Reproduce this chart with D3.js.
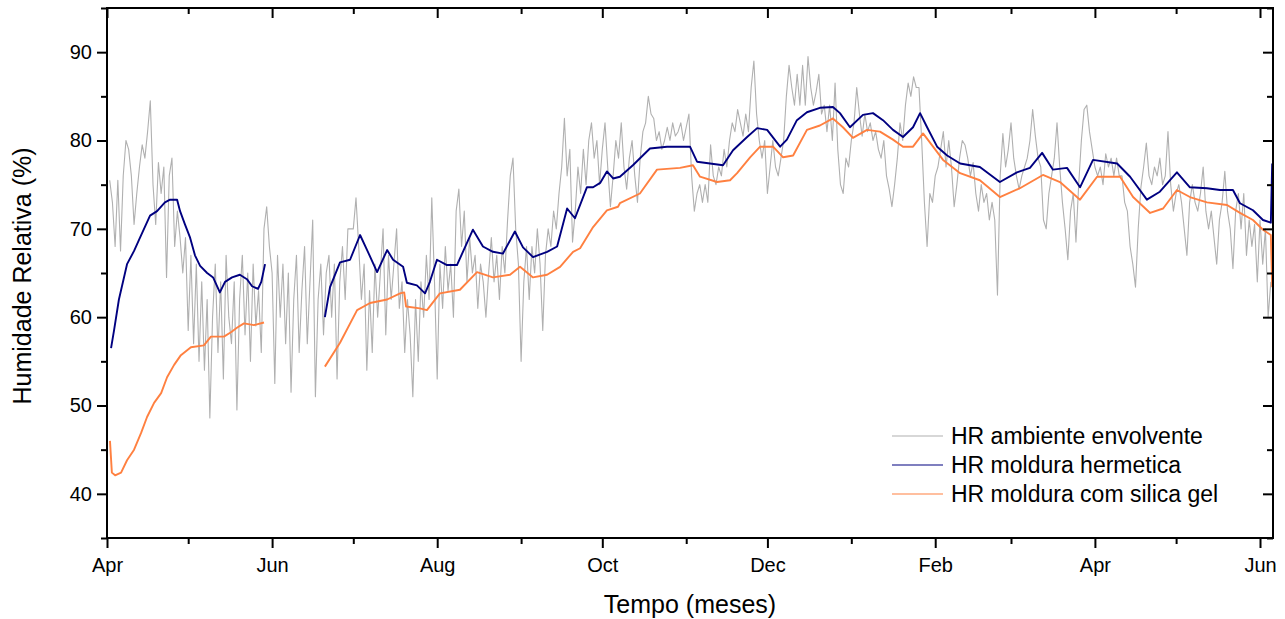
<!DOCTYPE html>
<html><head><meta charset="utf-8">
<script src="https://cdn.jsdelivr.net/npm/d3@7"></script>
<style>
body{margin:0;background:#fff}
svg{display:block}
text{font-family:"Liberation Sans",Arial,Helvetica,sans-serif;fill:#000}
</style>
</head><body>
<svg id="chart" width="1285" height="619"></svg>
<script>
// ---------- data ----------
const startDate = new Date(2014, 3, 1);     // day 0 = 1 Apr 2014
const endDay = 430.8;                        // right edge of the frame (~6 Jun 2015)
const yDomain = [35, 95];
const yTickValues = [40, 50, 60, 70, 80, 90];
const xTickLabels = ["Apr", "Jun", "Aug", "Oct", "Dec", "Feb", "Apr", "Jun"];
const seriesNames = ["HR ambiente envolvente", "HR moldura hermetica", "HR moldura com silica gel"];
const seriesColors = ["#b0b0b0", "#000080", "#ff8040"];

// ambient RH, one reading per day, starting at day 1
const ambienteStartDay = 1;
const ambienteValues = [
  75.5,73,68,75.5,67.5,76,80,79,76,70.5,
  74,77,79.5,78,81,84.5,75,70.5,77.5,74,
  77,64.5,76,78,68,72,69,65,69,58.5,
  67,57,66,55,64,54,62,48.6,60,66,
  56,64,53,67,60,57,64,49.5,62,67,
  58,65,55,66,59,63,56,70,72.5,68,
  65,52.5,67,60,66,57,65,51.5,62,67,
  56,63,68,57,64,71,51,62,66,58,
  65,67,60,66,53,64,68,62,70,70,
  70,73.5,68,62,66,54,63,56,66,60,
  65,70,58,67,62,66,70,61,64,56,
  62,58,51,62,55,64,60,67,62,73.5,
  64,53,66,61,68,63,66,60,72,74.5,
  68,72,64,69,65,67,61,66,64,60,
  65,69,64,67,62,68,65,71,76,78,
  70,66,55,64,68,62,68,65,70,66,
  58.5,67,70,68,72,70,74,77,82.5,76,
  79,68.5,72,77,74,79,75,80,82,78,
  80,75,79,82,77,72.5,76,80,78,82,
  77,74.5,78,80,76,73,78,81,82,85,
  83,82.5,80,81,79,80,81.5,80,82,80.5,
  81,82,80,81.5,83,76,72,74,75,73,
  75,73,79.5,76,75,77,76,79,77,80,
  82,81,83.5,82,80.5,83,81,86,89,83,
  80,78,80,74,77,80,77,76,78,80,
  85,88.5,86,84,87.5,84,88.5,84,89.5,86,
  84,85.5,87.5,83,84,81,84,80,86.5,79,
  75,74,78,77,80,82,86,83,80.5,83,
  81,82,80,81,79,78,80,76,74.5,72.5,
  75,78,82,80,84,86.5,85,87.2,86,86,
  80,73,68,74,73,76,77,79,81,77,
  80,77,72.5,75,78,80,79.5,78,76,77.5,
  74,72,75,73,74,71,73,71,62.5,76,
  80.8,77,79,82,78,76,74.5,76,77,78,
  80,83.5,80.5,78,77,71,70,74,76,78,
  82,77,73,70,66.5,72,74,68.5,75,80,
  83.5,84,81,79,77,76,77,75,78.5,77,
  78,76,78,76,76,73,72,68,66,63.4,
  70,74.7,77,79.7,76,75,77,76,78,75,
  76,81,75,72,74,75,73,70,67,73,
  75,73,72,74,77,72,70,72,69,66,
  71,73,76.5,72,70,65.5,72,74,70,74,
  67,71,68,70.5,64,71,66,70,60,64
];

// hermetic frame (null = gap in record)
const hermeticaDays = [
  1.5,2.6,4.4,7.4,10,12.2,15.9,18.5,21.4,23.3,25.9,27,28.8,30.7,32.5,34.4,37,39.2,41.7,43.6,46.2,49.1,51.7,53.6,55.8,57,58.4,
  null,
  80.5,82.4,86.1,89.8,93.5,96.1,99.8,103.5,105.7,109.4,110.8,114.5,117.5,119.3,121.9,125.6,129.3,135.2,138.9,142.6,146.3,150.7,153.7,157.4,162.6,166.3,170,172.9,177.3,179.6,182.2,184.7,187,189.5,194.3,200.6,206.9,215.4,218,222.8,227.6,231.3,236.5,240.2,243.9,248.7,251.2,254.9,258.6,263.4,268.2,270.8,274.5,279.3,283,286.7,290.4,294.1,297.8,300.4,303,306.7,310.4,315.2,322.5,329.9,336.2,341,345.5,349.5,354.7,359.5,364.3,373.2,378,384.2,389,395.3,400.1,406.4,411.2,416,418.6,423.4,427.1,430,430.5
];
const hermeticaValues = [
  56.5,58.5,62,66,67.5,69,71.5,72,73,73.3,73.3,72,70.5,69,67,65.8,65,64.5,62.8,64,64.5,64.8,64.3,63.5,63.2,64,66,
  null,
  60,63.4,66.2,66.5,69.3,67.6,65.1,67.6,66.5,65.7,63.9,63.6,62.7,64,66.5,65.9,65.9,69.9,68,67.4,67.2,69.7,67.9,66.8,67.4,68,72.3,71.2,74.7,74.7,75.2,76.5,75.7,75.9,77.2,79.1,79.3,79.3,77.6,77.4,77.2,78.9,80.4,81.4,81.2,79.3,80.1,82.3,83.2,83.7,83.8,83.1,81.5,82.9,83.1,82.3,81.2,80.4,81.5,83.1,81.5,79.3,78.3,77.4,77,75.3,76.4,76.9,78.6,76.7,76.9,74.7,77.8,77.4,75.9,73.3,74.2,76.4,74.7,74.6,74.4,74.4,72.9,72.1,71,70.7,77.4
];

// frame with silica gel (null = gap in record)
const silicaDays = [
  1.1,1.8,3,5.2,7.4,10,12.6,14.8,17.4,20,22.2,24.8,27.3,31,35.8,38.4,43.2,45.8,48,50.6,54.3,58,
  null,
  80.5,86.1,92.4,97.2,103.5,108.3,109.8,110.5,115.6,118.2,123,130.4,136.7,142.6,148.9,152.6,157.4,162.6,167.4,172.2,174.8,179.6,184.7,188.8,189.5,196.9,203.2,211.7,216.5,219.1,225.4,230.2,232.8,237.6,241.3,246.1,249.8,253.5,258.6,263.4,268.2,271.9,275.6,280.8,285.6,290.4,294.1,297.8,301.5,305.2,308.9,315.2,322.5,329.9,337.3,345.8,352.1,359.5,365.8,374.3,379.1,385.4,390.2,395.3,400.1,406.4,413.8,418.6,423.4,427.1,430,430.5
];
const silicaValues = [
  46,42.4,42.1,42.4,43.8,45,46.9,48.7,50.3,51.4,53.2,54.6,55.7,56.6,56.8,57.8,57.8,58.3,58.8,59.3,59.1,59.4,
  null,
  54.4,57.1,60.8,61.6,62,62.7,62.8,61.2,61,60.8,62.7,63.1,65.1,64.5,64.8,65.7,64.5,64.8,65.7,67.4,67.8,70.2,72.1,72.5,72.9,74,76.7,76.9,77.2,75.9,75.3,75.5,76.3,78.1,79.3,79.3,78.1,78.3,81.2,81.7,82.5,81.5,80.3,81.2,81,80.1,79.3,79.3,80.8,79.3,77.8,76.3,75.5,73.6,74.6,76.1,75.3,73.3,75.9,75.9,73.6,71.8,72.3,74.4,73.6,73,72.7,71.8,71,69.9,69.3,63.4
];

// ---------- drawing ----------
const W = 1285, H = 619;
const margin = {left: 107, top: 8, right: 12, bottom: 81};
const dayToDate = d => new Date(startDate.getTime() + d * 86400000);
const endDate = dayToDate(endDay);

const x = d3.scaleTime().domain([startDate, endDate]).range([margin.left, W - margin.right]);
const y = d3.scaleLinear().domain(yDomain).range([H - margin.bottom, margin.top]);

const svg = d3.select("#chart");
const x0 = margin.left, x1 = W - margin.right, y0 = H - margin.bottom, y1 = margin.top;

const plot = svg.append("g");
plot.append("clipPath").attr("id", "clip").append("rect")
  .attr("x", x0).attr("y", y1).attr("width", x1 - x0).attr("height", y0 - y1);

const ambiente = ambienteValues.map((v, i) => ({d: ambienteStartDay + i, v}));
const hermetica = hermeticaDays.map((d, i) => ({d, v: hermeticaValues[i]}));
const silica = silicaDays.map((d, i) => ({d, v: silicaValues[i]}));

const line = d3.line()
  .defined(p => p.d != null && p.v != null)
  .x(p => x(dayToDate(p.d)))
  .y(p => y(p.v));

const lines = plot.append("g").attr("clip-path", "url(#clip)");
lines.append("path").datum(ambiente).attr("d", line)
  .attr("fill", "none").attr("stroke", seriesColors[0]).attr("stroke-width", 1.1).attr("stroke-linejoin", "round");
lines.append("path").datum(silica).attr("d", line)
  .attr("fill", "none").attr("stroke", seriesColors[2]).attr("stroke-width", 1.9).attr("stroke-linejoin", "round");
lines.append("path").datum(hermetica).attr("d", line)
  .attr("fill", "none").attr("stroke", seriesColors[1]).attr("stroke-width", 1.9).attr("stroke-linejoin", "round");

// ticks: majors every second month starting at April, minors on the other months
const allMonths = d3.timeMonth.range(startDate, d3.timeDay.offset(endDate, 1));
const majorDates = allMonths.filter((dt, i) => i % 2 === 0);
const minorDates = allMonths.filter((dt, i) => i % 2 === 1);
const yMinor = d3.range(yDomain[0], yDomain[1] + 0.1, 5).filter(v => !yTickValues.includes(v));

function styleAxis(g) {
  g.select(".domain").remove();
  g.selectAll("line").attr("stroke", "#000").attr("stroke-width", 2);
  g.selectAll("text").attr("font-size", 20).attr("font-family", '"Liberation Sans", Arial, sans-serif').attr("fill", "#000");
}

svg.append("g").attr("transform", `translate(0,${y0})`)
  .call(d3.axisBottom(x).tickValues(majorDates).tickSize(10).tickPadding(10)
    .tickFormat((dt, i) => xTickLabels[i]))
  .call(styleAxis);
svg.append("g").attr("transform", `translate(0,${y0})`)
  .call(d3.axisBottom(x).tickValues(minorDates).tickSize(6).tickFormat(""))
  .call(styleAxis);
svg.append("g").attr("transform", `translate(0,${y1})`)
  .call(d3.axisTop(x).tickValues(majorDates).tickSize(-10).tickFormat(""))
  .call(styleAxis);
svg.append("g").attr("transform", `translate(0,${y1})`)
  .call(d3.axisTop(x).tickValues(minorDates).tickSize(-6).tickFormat(""))
  .call(styleAxis);

svg.append("g").attr("transform", `translate(${x0},0)`)
  .call(d3.axisLeft(y).tickValues(yTickValues).tickSize(10).tickPadding(5))
  .call(styleAxis);
svg.append("g").attr("transform", `translate(${x0},0)`)
  .call(d3.axisLeft(y).tickValues(yMinor).tickSize(6).tickFormat(""))
  .call(styleAxis);
svg.append("g").attr("transform", `translate(${x1},0)`)
  .call(d3.axisRight(y).tickValues(yTickValues).tickSize(-10).tickFormat(""))
  .call(styleAxis);
svg.append("g").attr("transform", `translate(${x1},0)`)
  .call(d3.axisRight(y).tickValues(yMinor).tickSize(-6).tickFormat(""))
  .call(styleAxis);

// frame
svg.append("rect").attr("x", x0).attr("y", y1).attr("width", x1 - x0).attr("height", y0 - y1)
  .attr("fill", "none").attr("stroke", "#000").attr("stroke-width", 2);

// axis titles
svg.append("text").attr("x", 690).attr("y", 613).attr("text-anchor", "middle")
  .attr("font-size", 25).text("Tempo (meses)");
svg.append("text").attr("transform", "translate(31,276) rotate(-90)").attr("text-anchor", "middle")
  .attr("font-size", 25).text("Humidade Relativa (%)");

// legend
const legend = svg.append("g");
seriesNames.forEach((name, i) => {
  const ly = 436 + i * 29;
  legend.append("line").attr("x1", 892).attr("x2", 943).attr("y1", ly).attr("y2", ly)
    .attr("stroke", seriesColors[i]).attr("stroke-width", 1.2);
  legend.append("text").attr("x", 951).attr("y", ly).attr("dy", "0.35em")
    .attr("font-size", 23).text(name);
});
</script>
</body></html>
